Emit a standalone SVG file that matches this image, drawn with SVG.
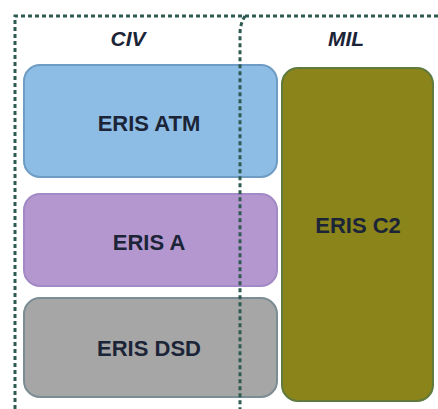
<svg xmlns="http://www.w3.org/2000/svg" width="438" height="409" viewBox="0 0 438 409">
<style>
.lbl{font-family:"Liberation Sans",Arial,sans-serif;font-weight:bold;font-size:22px;fill:#1c2438;text-anchor:middle}
.hdr{font-family:"Liberation Sans",Arial,sans-serif;font-weight:bold;font-style:italic;font-size:21px;fill:#1c2438;text-anchor:middle}
.dash{fill:none;stroke:#2f5a52;stroke-width:3;stroke-dasharray:4 3}
</style>
<rect width="438" height="409" fill="#ffffff"/>
<g id="frame">
<path class="dash" d="M15,409 L15,16 L438,16"/>
</g>
<g id="headers">
<text class="hdr" x="128" y="46">CIV</text>
<text class="hdr" x="346" y="46">MIL</text>
</g>
<g id="eris-atm">
<rect x="24" y="65" width="253" height="112" rx="16" fill="#8dbde4" stroke="#6f9cc4" stroke-width="2"/>
<text class="lbl" x="149" y="131">ERIS ATM</text>
</g>
<g id="eris-a">
<rect x="24" y="194" width="253" height="92" rx="16" fill="#b497cf" stroke="#a389c5" stroke-width="2"/>
<text class="lbl" x="149" y="250">ERIS A</text>
</g>
<g id="eris-dsd">
<rect x="24" y="298" width="253" height="99" rx="16" fill="#a6a6a6" stroke="#7c8c94" stroke-width="2"/>
<text class="lbl" x="149" y="356">ERIS DSD</text>
</g>
<g id="eris-c2">
<rect x="282" y="68" width="151" height="333" rx="16" fill="#8a841a" stroke="#5f7a3c" stroke-width="2"/>
<text class="lbl" x="358" y="233">ERIS C2</text>
</g>
<g id="connectors">
<path class="dash" d="M245,16 Q240,24 240,34 L240,409"/>
</g>
</svg>
